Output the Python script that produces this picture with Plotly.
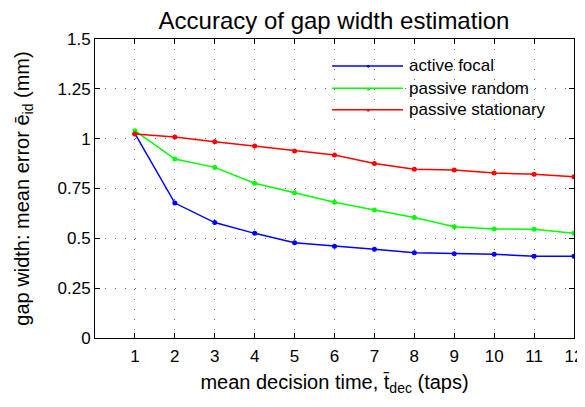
import plotly.graph_objects as go

x_vals = [1, 2, 3, 4, 5, 6, 7, 8, 9, 10, 11, 12]
active_focal = [1.025, 0.677, 0.579, 0.525, 0.478, 0.460, 0.445, 0.428, 0.423, 0.420, 0.410, 0.410]
passive_random = [1.040, 0.898, 0.856, 0.776, 0.729, 0.681, 0.642, 0.604, 0.558, 0.547, 0.545, 0.525]
passive_stationary = [1.024, 1.008, 0.985, 0.963, 0.938, 0.918, 0.875, 0.846, 0.843, 0.828, 0.821, 0.809]

series_names = ["active focal", "passive random", "passive stationary"]
series_colors = ["#0000ff", "#00ff00", "#ff0000"]
series_data = [active_focal, passive_random, passive_stationary]

x_ticks = [1, 2, 3, 4, 5, 6, 7, 8, 9, 10, 11, 12]
y_ticks = [0, 0.25, 0.5, 0.75, 1, 1.25, 1.5]
y_ticklabels = ["0", "0.25", "0.5", "0.75", "1", "1.25", "1.5"]

FONT = "Liberation Sans, Arial, Helvetica, sans-serif"

fig = go.Figure()
for name, color, ys in zip(series_names, series_colors, series_data):
    fig.add_trace(go.Scatter(
        x=x_vals, y=ys, name=name, mode="lines+markers",
        line=dict(color=color, width=1.5),
        marker=dict(color=color, size=5),
        showlegend=False,
    ))

# custom legend (MATLAB style, long sample lines, no box)
leg_rows = [0.910, 0.835, 0.763]
for name, color, yy in zip(series_names, series_colors, leg_rows):
    fig.add_shape(type="line", xref="paper", yref="paper",
                  x0=0.495, x1=0.643, y0=yy, y1=yy,
                  line=dict(color=color, width=1.5))
    fig.add_annotation(xref="paper", yref="paper", x=0.569, y=yy,
                       text="●", showarrow=False,
                       font=dict(size=7, color=color, family=FONT),
                       xanchor="center", yanchor="middle")
    fig.add_annotation(xref="paper", yref="paper", x=0.652, y=yy,
                       text=name, showarrow=False,
                       font=dict(size=17, color="black", family=FONT),
                       xanchor="left", yanchor="middle")

# page body has an 8px margin, so the figure is offset by (8, 8)
fig.update_layout(
    width=577, height=399,
    margin=dict(l=87, r=11, t=31, b=69, autoexpand=False),
    paper_bgcolor="white", plot_bgcolor="white",
    font=dict(family=FONT, color="black"),
    title=dict(text="Accuracy of gap width estimation",
               x=0.565, xanchor="center", y=0.969, yanchor="middle",
               yref="container", font=dict(size=24, family=FONT)),
)
grid = dict(showgrid=True, gridcolor="#666666", gridwidth=1, griddash="1px,9px")
fig.update_xaxes(
    range=[0, 12], tickvals=x_ticks, ticktext=[str(t) for t in x_ticks],
    ticks="inside", ticklen=5, tickcolor="black",
    showline=True, linecolor="black", linewidth=1, mirror="ticks",
    zeroline=False, tickfont=dict(size=17), automargin=False,
    ticklabelstandoff=3,
    title=dict(text="mean decision time, t\u0304<sub>dec</sub> (taps)",
               font=dict(size=20), standoff=9),
    **grid,
)
fig.update_yaxes(
    range=[0, 1.5], tickvals=y_ticks, ticktext=y_ticklabels,
    ticks="inside", ticklen=5, tickcolor="black",
    showline=True, linecolor="black", linewidth=1, mirror="ticks",
    zeroline=False, tickfont=dict(size=17), automargin=False,
    title=dict(text="gap width: mean error \u0113<sub>id</sub> (mm)",
               font=dict(size=20), standoff=22),
    **grid,
)

fig.write_html("out.html")
